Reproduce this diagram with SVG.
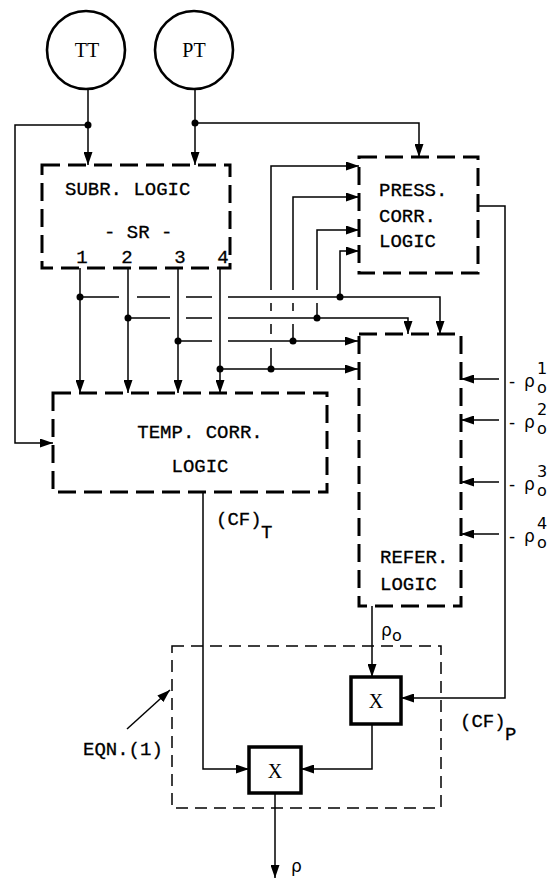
<svg xmlns="http://www.w3.org/2000/svg" width="556" height="879" viewBox="0 0 556 879">
<style>
.box{fill:none;stroke:#000;stroke-width:3;stroke-dasharray:18 8}
.eqn{fill:none;stroke:#000;stroke-width:1.5;stroke-dasharray:12 7}
.circ{fill:none;stroke:#000;stroke-width:2.6}
.mul{fill:none;stroke:#000;stroke-width:3.5}
.ln{fill:none;stroke:#000;stroke-width:1.5}
.arr{marker-end:url(#ah)}
.dot{fill:#000}
.mono{font-family:"Liberation Mono","DejaVu Sans Mono",monospace;font-size:19px;fill:#000;stroke:#000;stroke-width:0.3}
.ser{font-family:"Liberation Serif","DejaVu Serif",serif;font-size:20px;fill:#000}
.gr{font-family:"DejaVu Sans","Liberation Sans",sans-serif;font-size:17px;fill:#000}
.sm{font-family:"DejaVu Sans","Liberation Sans",sans-serif;font-size:16px;fill:#000}
</style>
<defs>
<marker id="ah" markerWidth="13" markerHeight="9" refX="13" refY="4.5" orient="auto" markerUnits="userSpaceOnUse">
<path d="M0,0 L13,4.5 L0,9 z" fill="#000"/>
</marker>
</defs>

<g id="connectors">
<path class="ln arr" d="M88 89 V165"/>
<path class="ln arr" d="M88 125 H15 V443 H53"/>
<path class="ln arr" d="M195 89 V165"/>
<path class="ln arr" d="M195 123 H419 V157"/>
<path class="ln arr" d="M80 268 V393"/>
<path class="ln arr" d="M128 268 V393"/>
<path class="ln arr" d="M178 268 V393"/>
<path class="ln arr" d="M220 268 V393"/>
<path class="ln" d="M80 297 H119 M137 297 H170 M186 297 H212"/>
<path class="ln arr" d="M228 297 H440 V334"/>
<path class="ln" d="M128 318 H170 M186 318 H212"/>
<path class="ln arr" d="M228 318 H408 V334"/>
<path class="ln" d="M178 341 H212"/>
<path class="ln arr" d="M228 341 H358"/>
<path class="ln arr" d="M220 369 H358"/>
<path class="ln" d="M271 369 V348 M271 334 V324 M271 311 V303"/>
<path class="ln arr" d="M271 290 V166 H359"/>
<path class="ln" d="M293 341 V324 M293 311 V303"/>
<path class="ln arr" d="M293 290 V197 H359"/>
<path class="ln" d="M317 318 V303"/>
<path class="ln arr" d="M317 290 V230 H359"/>
<path class="ln arr" d="M340 297 V251 H359"/>
<path class="ln arr" d="M478 206 H505 V698 H401"/>
<path class="ln arr" d="M499 379 H461"/>
<path class="ln arr" d="M499 420 H461"/>
<path class="ln arr" d="M499 482 H461"/>
<path class="ln arr" d="M499 534 H461"/>
<path class="ln arr" d="M372 606 V677"/>
<path class="ln arr" d="M372 724 V769 H301"/>
<path class="ln arr" d="M203 492 V769 H249"/>
<path class="ln arr" d="M275 793 V878"/>
<path class="ln arr" d="M127 729 L170 690"/>
<circle class="dot" cx="88" cy="125" r="3.5"/>
<circle class="dot" cx="195" cy="123" r="3.5"/>
<circle class="dot" cx="80" cy="297" r="3.5"/>
<circle class="dot" cx="128" cy="318" r="3.5"/>
<circle class="dot" cx="178" cy="341" r="3.5"/>
<circle class="dot" cx="220" cy="369" r="3.5"/>
<circle class="dot" cx="340" cy="297" r="3.5"/>
<circle class="dot" cx="317" cy="318" r="3.5"/>
<circle class="dot" cx="293" cy="341" r="3.5"/>
<circle class="dot" cx="271" cy="369" r="3.5"/>
</g>

<g id="TT">
<circle class="circ" cx="86" cy="50" r="39"/>
<text class="ser" x="87" y="57" text-anchor="middle">TT</text>
</g>
<g id="PT">
<circle class="circ" cx="194" cy="50" r="39"/>
<text class="ser" x="194" y="57" text-anchor="middle">PT</text>
</g>

<g id="subr">
<rect class="box" x="42" y="165" width="188" height="103"/>
<text class="mono" x="65" y="195">SUBR. LOGIC</text>
<text class="mono" x="104" y="238">- SR -</text>
<text class="mono" x="82" y="263" text-anchor="middle">1</text>
<text class="mono" x="127" y="263" text-anchor="middle">2</text>
<text class="mono" x="180" y="263" text-anchor="middle">3</text>
<text class="mono" x="223" y="263" text-anchor="middle">4</text>
</g>

<g id="press">
<rect class="box" x="359" y="157" width="119" height="116"/>
<text class="mono" x="379" y="196">PRESS.</text>
<text class="mono" x="379" y="222">CORR.</text>
<text class="mono" x="379" y="247">LOGIC</text>
</g>

<g id="temp">
<rect class="box" x="53" y="393" width="274" height="99"/>
<text class="mono" x="200" y="438" text-anchor="middle">TEMP. CORR.</text>
<text class="mono" x="200" y="472" text-anchor="middle">LOGIC</text>
</g>

<g id="refer">
<rect class="box" x="359" y="334" width="102" height="272"/>
<text class="mono" x="380" y="563">REFER.</text>
<text class="mono" x="380" y="590">LOGIC</text>
</g>

<g id="rho-inputs">
<text class="gr" x="509" y="387">-</text><text class="gr" x="524" y="387">ρ</text><text class="sm" x="537" y="374">1</text><text class="sm" x="537" y="393">o</text>
<text class="gr" x="509" y="428">-</text><text class="gr" x="524" y="428">ρ</text><text class="sm" x="537" y="415">2</text><text class="sm" x="537" y="434">o</text>
<text class="gr" x="509" y="490">-</text><text class="gr" x="524" y="490">ρ</text><text class="sm" x="537" y="477">3</text><text class="sm" x="537" y="496">o</text>
<text class="gr" x="509" y="542">-</text><text class="gr" x="524" y="542">ρ</text><text class="sm" x="537" y="529">4</text><text class="sm" x="537" y="548">o</text>
</g>

<g id="labels">
<text class="mono" x="216" y="525">(CF)</text><text class="mono" x="261" y="538">T</text>
<text class="mono" x="460" y="727">(CF)</text><text class="mono" x="505" y="740">P</text>
<text class="gr" x="381" y="636">ρ</text><text class="sm" x="392" y="641">o</text>
<text class="gr" x="291" y="872">ρ</text>
<text class="mono" x="83" y="755">EQN.(1)</text>
</g>

<g id="eqn">
<rect class="eqn" x="172" y="646" width="269" height="162"/>
</g>

<g id="x1">
<rect class="mul" x="351" y="677" width="50" height="47"/>
<text class="ser" x="376" y="708" text-anchor="middle">X</text>
</g>
<g id="x2">
<rect class="mul" x="249" y="747" width="52" height="46"/>
<text class="ser" x="275" y="778" text-anchor="middle">X</text>
</g>
</svg>
